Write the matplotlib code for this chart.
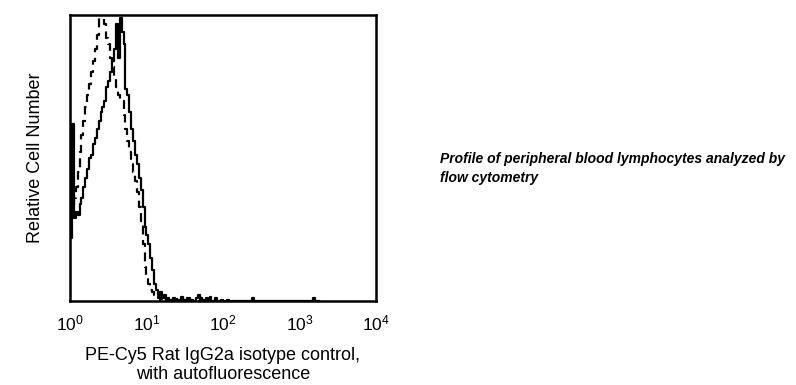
import numpy as np
import matplotlib.pyplot as plt

plt.rcParams['font.family'] = ['Liberation Sans', 'DejaVu Sans']
plt.rcParams['mathtext.fontset'] = 'custom'
plt.rcParams['mathtext.rm'] = 'Liberation Sans'
plt.rcParams['mathtext.it'] = 'Liberation Sans:italic'
plt.rcParams['mathtext.bf'] = 'Liberation Sans:bold'

# Histogram data: log10 bin width and relative counts (% of axis height)
bin_width = 0.025
isotype_counts = [22, 62, 29, 31, 30, 34, 36, 40, 43, 46,
                  50, 51, 55, 57, 60, 63, 66, 68, 70, 75,
                  77, 80, 84, 88, 97, 85, 99, 94, 90, 74,
                  72, 66, 60, 56, 51, 48, 43, 39, 33, 26,
                  23, 20, 15, 11, 6, 4, 2, 3, 1, 2,
                  0.5, 1, 0, 0.5, 1, 0, 0, 0.5, 1.5, 0.5,
                  0, 1, 0, 0.5, 0, 0, 1, 2, 1, 0.5,
                  0, 1, 0.5, 1.5, 0, 0, 1, 0, 0, 0.5,
                  0, 0, 0.5, 0, 0, 0, 0, 0, 0, 0,
                  0, 0, 0, 0, 0, 1.2, 0, 0, 0, 0,
                  0, 0, 0, 0, 0, 0, 0, 0, 0, 0,
                  0, 0, 0, 0, 0, 0, 0, 0, 0, 0,
                  0, 0, 0, 0, 0, 0, 0, 1.2, 0, 0]
autofluor_counts = [30, 32, 36, 40, 45, 52, 58, 63, 68, 72,
                    76, 80, 84, 88, 93, 99, 104, 102, 97, 92,
                    90, 85, 82, 78, 75, 72, 70, 70, 65, 60,
                    56, 52, 48, 45, 42, 38, 33, 28, 20, 12,
                    8, 6, 4, 3, 2, 1, 1.5, 0.5, 0, 1,
                    0, 0.5, 0, 0, 0.5, 0, 1, 0, 0, 0.5,
                    0, 0, 1, 0, 0.5, 0, 0, 0, 1, 0]

tick_vals = [1, 10, 100, 1000, 10000]
tick_labels = [r'$10^{0}$', r'$10^{1}$', r'$10^{2}$', r'$10^{3}$', r'$10^{4}$']


def step_xy(counts):
    counts = np.asarray(counts, dtype=float)
    edges = 10 ** (np.arange(len(counts) + 1) * bin_width)
    y = np.append(counts, 0)
    return edges, y


fig = plt.figure(figsize=(7.96, 3.85), dpi=100)
ax = fig.add_axes([0.0879, 0.218, 0.3844, 0.743])

x, y = step_xy(isotype_counts)
ax.step(x, y, where='post', color='black', lw=1.6)
x, y = step_xy(autofluor_counts)
ax.step(x, y, where='post', color='black', lw=1.6, dashes=(4, 2.5))

ax.set_xscale('log')
ax.set_xlim(1, 10000)
ax.set_ylim(0, 100)
ax.set_xticks(tick_vals)
ax.set_xticklabels(tick_labels, fontsize=12.5)
ax.minorticks_off()
ax.tick_params(axis='x', length=0, pad=9)
ax.set_yticks([])
for s in ax.spines.values():
    s.set_linewidth(1.8)

ax.set_xlabel('PE-Cy5 Rat IgG2a isotype control,\nwith autofluorescence',
              fontsize=13, labelpad=10, linespacing=1.15)
ax.set_ylabel('Relative Cell Number', fontsize=13, labelpad=19)

fig.text(0.553, 0.605,
         'Profile of peripheral blood lymphocytes analyzed by\nflow cytometry',
         fontsize=10, fontweight='bold', fontstyle='italic', va='top', ha='left',
         linespacing=1.45)

fig.savefig('out.png', dpi=100)
